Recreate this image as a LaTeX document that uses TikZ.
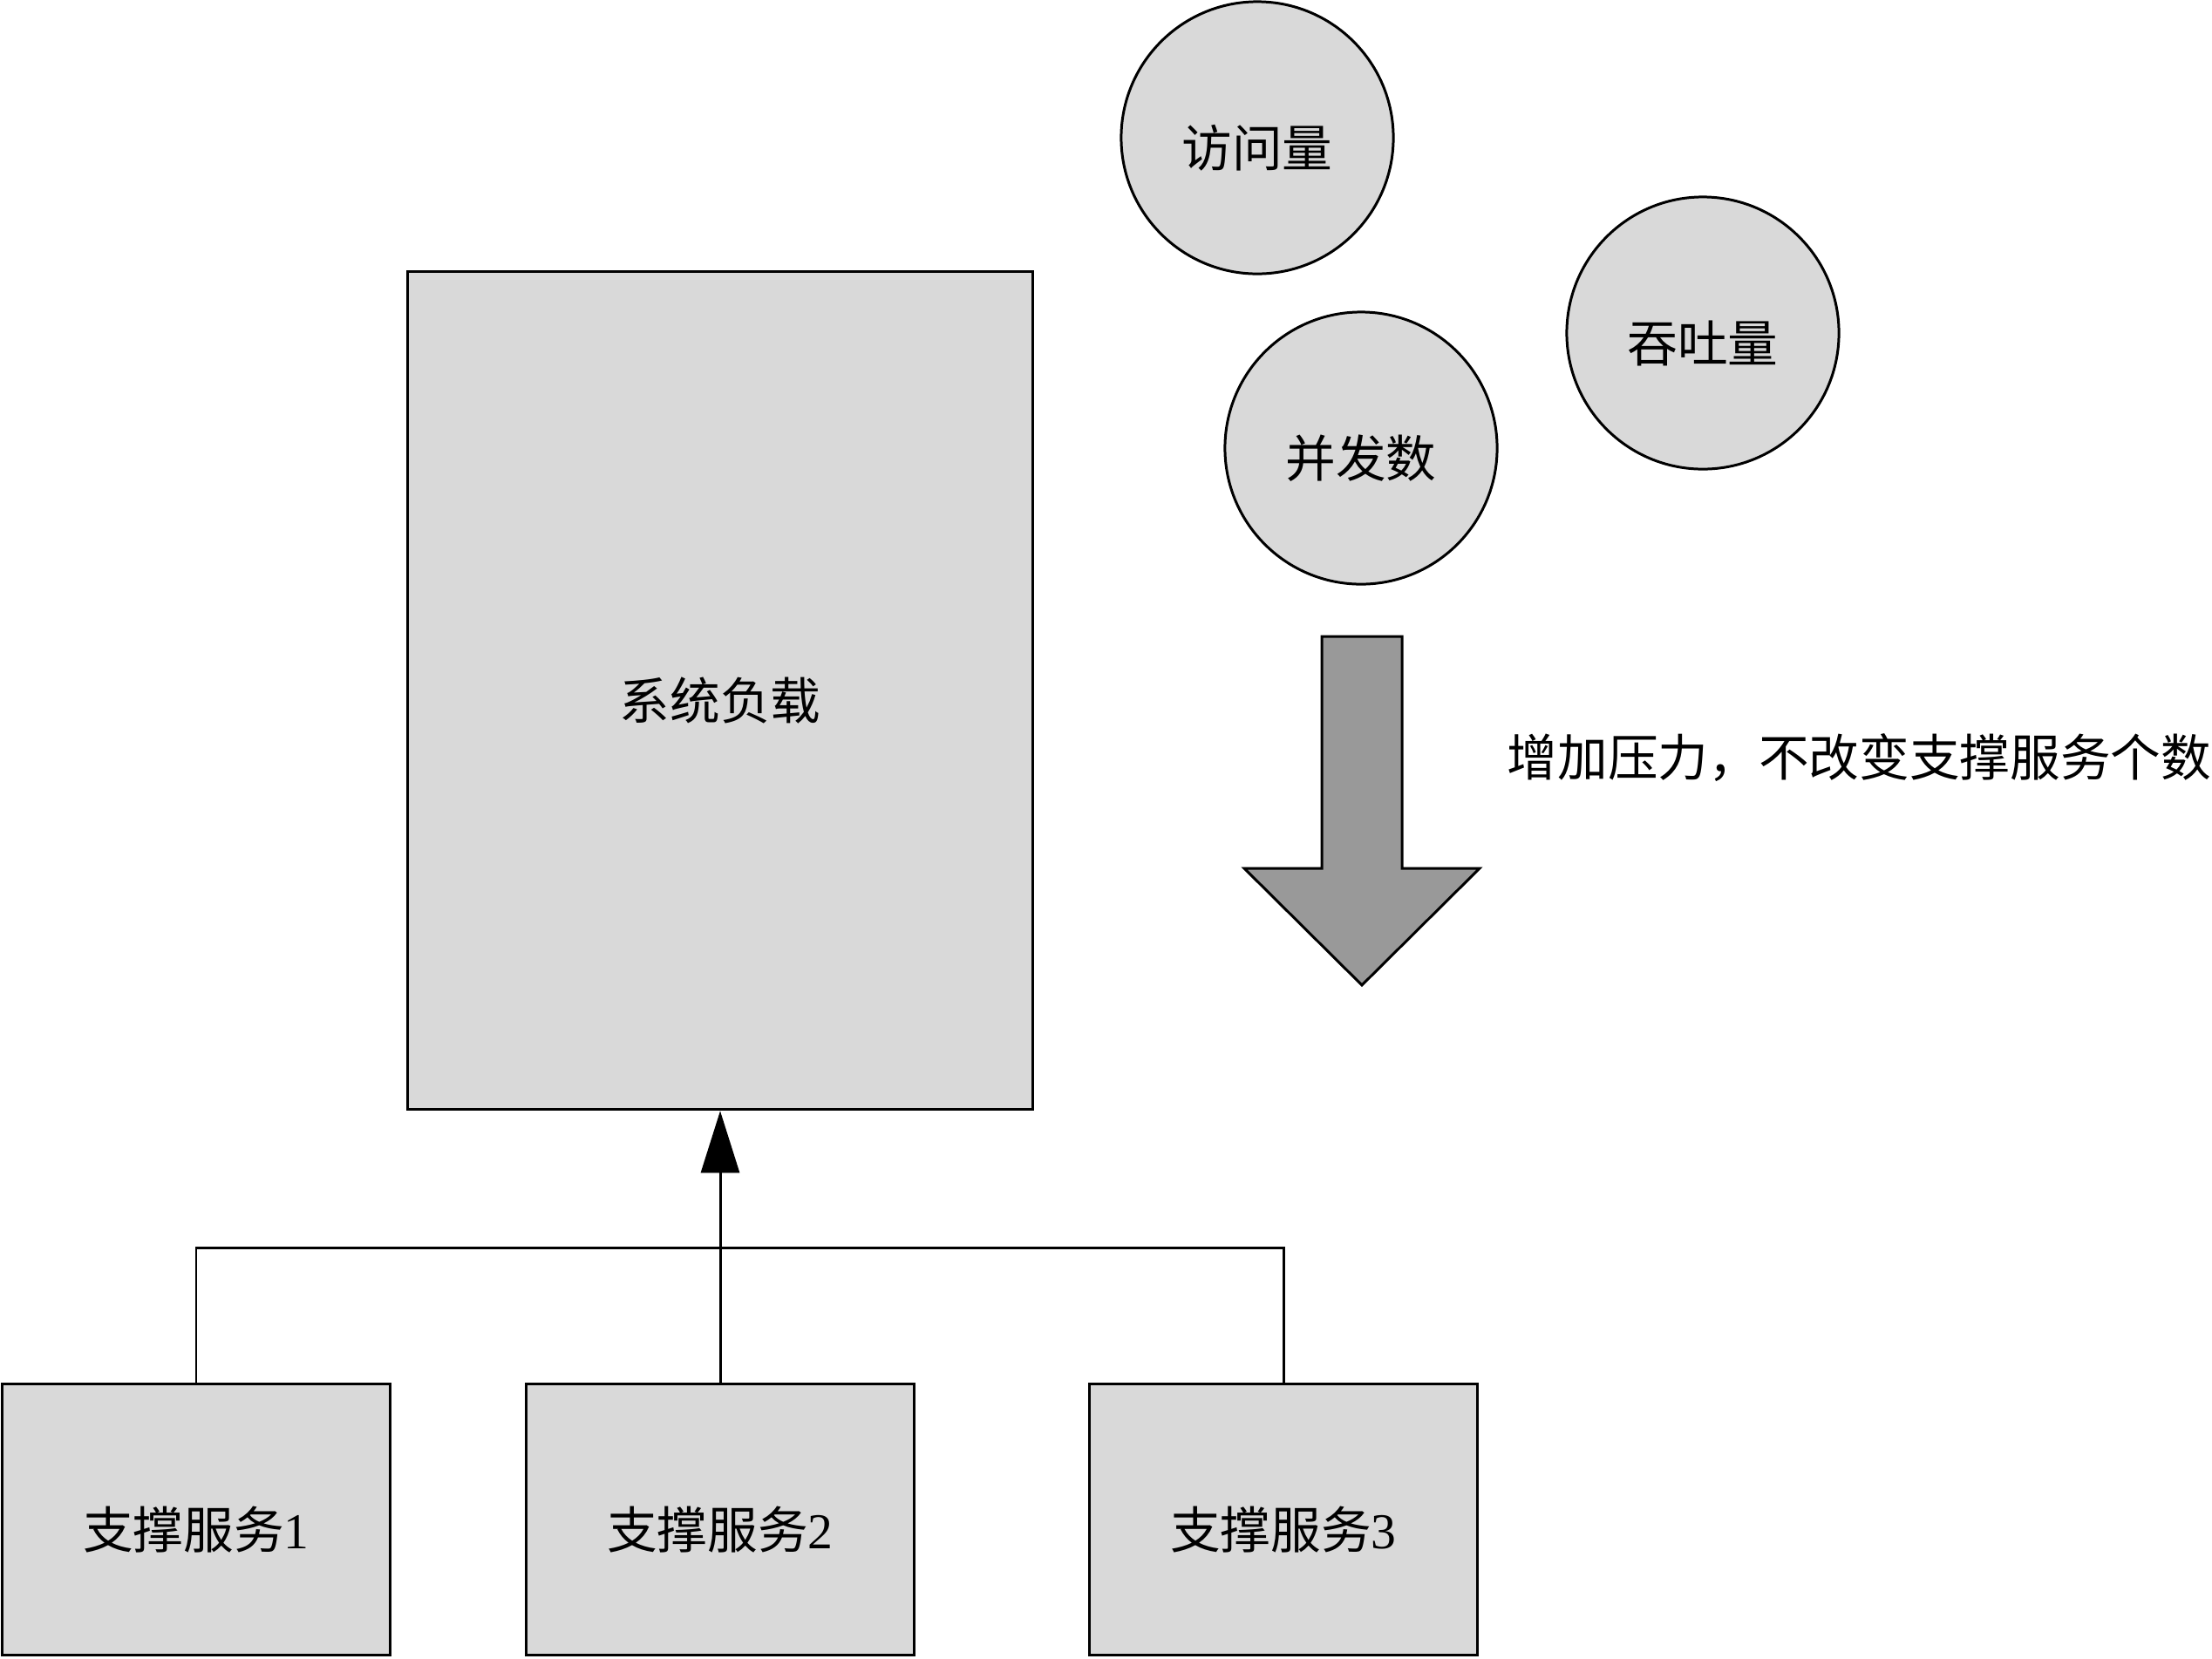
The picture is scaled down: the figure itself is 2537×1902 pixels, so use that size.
\documentclass[tikz,border=0pt]{standalone}
\usepackage{fontspec}
\setmainfont{Liberation Serif}
\newfontfamily\cjk{Noto Sans CJK SC}
\usetikzlibrary{arrows.meta}
\definecolor{boxgray}{HTML}{D9D9D9}
\definecolor{arrowgray}{HTML}{999999}
\begin{document}
\begin{tikzpicture}[x=0.01cm,y=-0.01cm,
  every node/.style={font=\fontsize{16.4pt}{19pt}\selectfont},
  lbl/.style={text height=19pt,text depth=0pt},
  box/.style={draw,line width=0.85pt,fill=boxgray,rectangle,inner sep=0pt,lbl},
  ball/.style={draw,line width=0.85pt,fill=boxgray,circle,inner sep=0pt,minimum size=3.12cm,lbl},
  link/.style={line width=0.85pt},
  bigarrow/.style={draw,line width=0.85pt,fill=arrowgray,line join=miter}]
\useasboundingbox (0,0) rectangle (2537,1902);

% main load box
\node[box,minimum width=7.16cm,minimum height=9.61cm] (load) at (826,792) {\cjk 系统负载};

% supporting services
\node[box,minimum width=4.44cm,minimum height=3.10cm] (s1) at (225,1743) {{\cjk 支撑服务}1};
\node[box,minimum width=4.45cm,minimum height=3.10cm] (s2) at (826,1743) {{\cjk 支撑服务}2};
\node[box,minimum width=4.44cm,minimum height=3.10cm] (s3) at (1472,1743) {{\cjk 支撑服务}3};

% load indicators
\node[ball] (visits) at (1442,158) {\cjk 访问量};
\node[ball] (tput) at (1953,382) {\cjk 吞吐量};
\node[ball] (conc) at (1561,514) {\cjk 并发数};

% tree of connectors
\coordinate (join) at (826,1431);
\draw[link] (s1.north) |- (join);
\draw[link] (s3.north) |- (join);
\draw[link,-{Triangle[length=0.71cm,width=0.44cm]}] (s2.north) -- (load.south);

% pressure arrow
\draw[bigarrow] (1516,730) -- (1608,730) -- (1608,996) -- (1697,996)
  -- (1562,1130) -- (1427,996) -- (1516,996) -- cycle;
\node[anchor=west,inner sep=0pt] (note) at (1728,869) {\cjk 增加压力，不改变支撑服务个数};
\end{tikzpicture}
\end{document}
